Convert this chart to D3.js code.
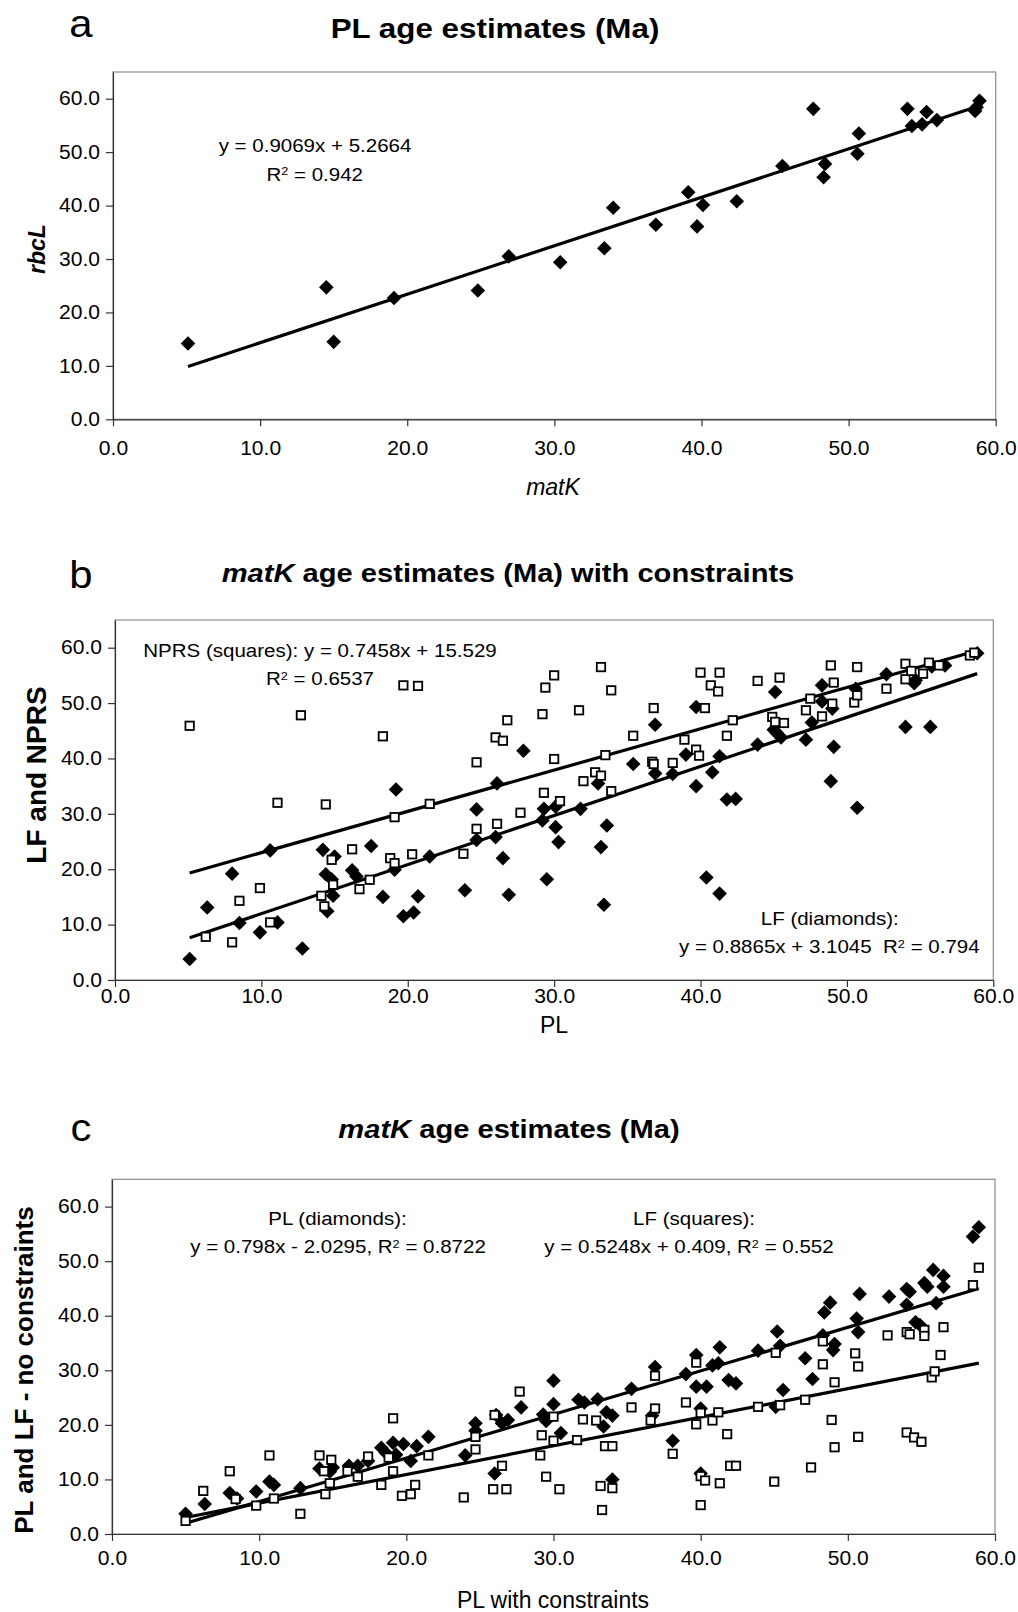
<!DOCTYPE html>
<html><head><meta charset="utf-8">
<script src="https://cdn.jsdelivr.net/npm/d3@7"></script>
<style>body{margin:0;background:#fff}svg{display:block}text{font-family:"Liberation Sans",Arial,sans-serif;fill:#000;white-space:pre}</style>
</head><body><svg id="c" width="1018" height="1612"></svg>
<script>
// ---------- data ----------
const tickValues = [0,10,20,30,40,50,60];
// panel a: PL ages, matK (x) vs rbcL (y)
const aPoints = [[5.1,14.2],[14.5,24.7],[15.0,14.5],[19.1,22.7],[24.8,24.1],[26.9,30.5],[30.4,29.4],[33.4,32.0],[34.0,39.6],[36.9,36.4],[39.1,42.5],[39.7,36.1],[40.1,40.1],[42.4,40.8],[45.5,47.4],[47.6,58.1],[48.4,47.8],[48.3,45.3],[50.6,49.7],[50.7,53.5],[54.0,58.1],[54.3,54.9],[55.0,55.2],[55.3,57.5],[56.0,56.0],[58.6,57.7],[58.9,59.6],[58.7,58.4]];
const aFit = [0.9069, 5.2664];
// panel b: PL (x) vs LF (diamonds) and NPRS (squares)
const bLF = [[5.1,3.8],[6.3,13.1],[8.0,19.2],[8.5,10.3],[9.9,8.6],[10.6,23.4],[11.1,10.4],[12.8,5.7],[14.2,23.5],[14.4,19.1],[14.8,18.2],[14.5,12.4],[14.9,15.2],[15.0,22.3],[16.2,19.8],[16.5,18.7],[17.5,24.2],[18.3,15.0],[19.2,34.4],[19.1,19.9],[19.7,11.5],[20.4,12.2],[20.7,15.1],[21.5,22.3],[23.9,16.2],[24.7,30.8],[24.7,25.3],[26.1,35.5],[26.0,25.8],[26.5,22.0],[26.9,15.4],[27.9,41.4],[29.5,18.2],[29.3,30.9],[29.2,28.8],[30.1,27.6],[30.3,24.9],[30.1,31.3],[31.8,30.9],[33.0,35.5],[33.2,24.0],[33.6,27.9],[33.4,13.6],[35.4,39.0],[36.9,46.1],[36.9,37.3],[38.1,37.2],[39.0,40.7],[39.7,49.3],[39.7,35.0],[40.4,18.5],[40.8,37.5],[41.3,40.4],[41.3,15.6],[41.8,32.6],[42.4,32.7],[43.9,42.5],[45.1,52.0],[45.0,45.2],[45.2,44.6],[45.5,43.8],[47.2,43.4],[47.6,46.5],[48.3,50.3],[48.3,53.2],[49.0,49.0],[49.1,42.1],[48.9,35.9],[50.6,52.6],[50.7,31.1],[52.7,55.2],[54.0,45.7],[55.7,45.7],[54.6,53.6],[54.7,54.1],[55.8,56.6],[56.7,56.8],[58.9,59.0]];
const bNPRS = [[5.1,45.9],[6.2,7.8],[8.0,6.8],[8.5,14.3],[9.9,16.6],[10.6,10.4],[11.1,32.0],[12.7,47.8],[14.1,15.2],[14.3,13.3],[14.4,31.7],[14.8,21.7],[14.9,17.2],[16.2,23.6],[16.7,16.4],[17.4,18.1],[18.3,44.0],[18.8,22.0],[19.1,21.1],[19.1,29.4],[19.7,53.2],[20.3,22.7],[20.7,53.1],[21.5,31.8],[23.8,22.8],[24.7,39.3],[24.7,27.3],[26.0,43.8],[26.1,28.2],[26.5,43.2],[26.8,46.9],[27.7,30.2],[29.2,48.0],[29.4,52.8],[30.0,55.0],[30.0,39.9],[29.3,33.8],[30.4,32.3],[31.7,48.7],[32.0,35.9],[32.8,37.5],[33.2,36.9],[33.2,56.5],[33.5,40.6],[33.9,52.3],[33.9,34.1],[35.4,44.1],[36.7,39.4],[36.8,39.0],[36.8,49.1],[38.1,39.2],[38.9,43.4],[39.7,41.6],[39.9,40.5],[40.0,55.5],[40.3,49.1],[40.7,53.2],[41.2,52.1],[41.3,55.5],[41.8,44.1],[42.2,46.9],[43.9,54.0],[44.9,47.5],[45.1,46.6],[45.4,54.6],[45.7,46.4],[47.2,48.7],[47.5,50.8],[48.3,47.6],[48.9,56.8],[49.1,53.7],[49.0,49.9],[50.7,56.5],[50.5,50.1],[50.7,51.4],[52.7,52.6],[54.0,57.1],[54.0,54.3],[54.4,55.8],[55.2,55.3],[55.6,57.3],[56.3,56.8],[58.4,58.6],[58.7,59.1]];
const bFitLF = [0.8865, 3.1045];
const bFitNPRS = [0.7458, 15.529];
// panel c: PL with constraints (x) vs PL (diamonds) and LF (squares) without constraints
const cPL = [[5.0,3.7],[6.3,5.5],[8.0,7.5],[8.5,6.5],[9.8,7.8],[10.7,9.6],[11.0,9.0],[12.8,8.4],[14.1,12.0],[14.8,11.4],[15.0,12.2],[16.1,12.5],[16.7,12.5],[17.4,13.4],[18.3,15.8],[18.6,14.9],[19.1,16.7],[19.3,14.5],[19.8,16.5],[20.3,13.4],[20.7,16.1],[21.5,17.8],[24.0,14.4],[24.7,20.3],[24.7,18.9],[26.0,11.1],[26.1,21.8],[26.5,20.3],[26.9,20.9],[27.8,23.2],[29.3,21.9],[29.5,20.7],[30.0,28.1],[30.0,23.8],[30.5,18.5],[31.7,24.6],[32.1,24.1],[33.0,24.7],[33.6,22.3],[34.0,21.7],[33.4,19.7],[34.0,10.0],[35.3,26.6],[36.9,30.6],[36.7,21.7],[38.1,17.1],[39.0,29.3],[39.7,32.8],[39.7,27.0],[40.0,23.0],[40.0,11.1],[40.4,27.0],[40.8,30.9],[41.2,31.3],[41.3,34.2],[41.9,28.2],[42.4,27.6],[43.9,33.6],[45.2,37.1],[45.4,34.5],[45.1,23.3],[45.6,26.4],[47.1,32.2],[47.6,28.4],[48.3,36.4],[48.4,40.6],[48.8,42.4],[49.1,34.8],[49.0,33.7],[50.6,39.5],[50.7,37.0],[50.8,44.0],[52.8,43.5],[54.0,44.9],[54.2,44.4],[54.0,42.0],[54.6,38.8],[54.9,38.3],[55.2,46.0],[55.8,48.4],[55.4,45.3],[56.0,42.3],[56.5,47.3],[56.5,45.3],[58.5,54.5],[58.9,56.2]];
const cLF = [[5.0,2.4],[6.2,7.9],[8.0,11.5],[8.4,6.4],[9.8,5.2],[10.7,14.4],[11.0,6.5],[12.8,3.7],[14.1,14.4],[14.4,11.5],[14.5,7.3],[14.9,13.6],[14.8,9.3],[16.0,11.5],[16.7,10.5],[17.4,14.2],[18.3,9.0],[19.1,21.2],[19.1,11.5],[18.8,14.0],[19.7,7.0],[20.3,7.3],[20.6,9.0],[21.5,14.4],[23.9,6.7],[24.7,15.5],[24.7,17.8],[26.0,21.8],[25.9,8.2],[26.5,12.5],[26.8,8.2],[27.7,26.1],[29.1,14.4],[29.2,18.1],[29.5,10.5],[30.0,21.5],[30.0,17.1],[30.4,8.2],[31.6,17.2],[32.0,21.0],[32.9,20.8],[33.5,16.1],[34.0,16.1],[33.2,8.8],[34.0,8.4],[33.3,4.4],[35.3,23.2],[36.9,29.0],[36.9,23.0],[36.6,20.8],[38.1,14.7],[39.0,24.1],[39.7,31.4],[39.7,20.1],[40.0,22.2],[40.0,10.6],[40.3,9.8],[40.0,5.3],[40.8,20.8],[41.2,22.3],[41.3,9.3],[41.8,18.3],[42.0,12.5],[42.4,12.5],[43.9,23.3],[45.1,33.2],[45.0,9.6],[45.4,23.6],[47.1,24.6],[47.5,12.2],[48.3,31.1],[48.3,35.3],[48.9,20.9],[49.1,27.8],[49.1,15.9],[50.5,33.1],[50.7,30.7],[50.7,17.8],[52.7,36.4],[54.0,37.0],[54.2,36.6],[54.0,18.6],[54.5,17.7],[55.0,16.9],[55.2,37.4],[55.2,36.3],[55.7,28.7],[55.9,29.8],[56.3,32.8],[56.5,37.9],[58.5,45.6],[58.9,48.8]];
const cFitPL = [0.798, -2.0295];
const cFitLF = [0.5248, 0.409];

// ---------- drawing ----------
const svg = d3.select("#c");
svg.append("rect").attr("width",1018).attr("height",1612).attr("fill","#fff");
const SX = 1.08;

function text(g, x, y, parts, o) {
  o = o || {};
  const t = g.append("text")
    .attr("transform", `translate(${x},${y})` + (o.rot ? ` rotate(${o.rot})` : "") + ` scale(${o.sx || 1},1)`)
    .attr("text-anchor", o.anchor || "middle")
    .attr("xml:space", "preserve")
    .style("font-size", (o.size || 19) + "px")
    .style("font-weight", o.weight || "normal")
    .style("font-style", o.style || "normal");
  parts.forEach(p => {
    if (typeof p === "string") p = {t: p};
    const s = t.append("tspan").text(p.t);
    if (p.style) s.style("font-style", p.style);
    if (p.weight) s.style("font-weight", p.weight);
    if (p.sup) s.attr("dy", "-0.45em").style("font-size", "0.62em");
    if (p.after) s.attr("dy", "0.28em");
  });
  return t;
}
const R2 = (val) => ["R", {t:"2", sup:true}, {t:" = " + val, after:true}];

function panel(box, series, fits, padX) {
  const x = d3.scaleLinear().domain([0,60]).range([box.l, box.r]);
  const y = d3.scaleLinear().domain([0,65]).range([box.b, box.t]);
  const g = svg.append("g");
  g.append("rect").attr("x", box.l).attr("y", box.t).attr("width", box.r-box.l).attr("height", box.b-box.t)
    .attr("fill","none").attr("stroke","#8a8a8a").attr("stroke-width",1.2);
  const ax = g.append("g").attr("transform", `translate(0,${box.b})`)
    .call(d3.axisBottom(x).tickValues(tickValues).tickFormat(d3.format(".1f")).tickSize(7).tickSizeOuter(0).tickPadding(padX));
  const ay = g.append("g").attr("transform", `translate(${box.l},0)`)
    .call(d3.axisLeft(y).tickValues(tickValues).tickFormat(d3.format(".1f")).tickSize(7).tickSizeOuter(0).tickPadding(5));
  [ax, ay].forEach(a => {
    a.select(".domain").attr("stroke","#333").attr("stroke-width",1.2);
    a.selectAll(".tick line").attr("stroke","#333").attr("stroke-width",1.2);
    a.selectAll(".tick text").style("font-size","19.5px").style("font-family",'"Liberation Sans",Arial,sans-serif')
      .attr("fill","#000");
  });
  ax.selectAll(".tick text").attr("transform", `scale(${SX},1)`);
  ay.selectAll(".tick text").attr("transform", `scale(${SX},1)`);
  // trend lines
  fits.forEach(f => {
    const pts = series[f.series].data;
    const [x0, x1] = d3.extent(pts, d => d[0]);
    const line = d3.line().x(d => x(d)).y(d => y(f.c[0]*d + f.c[1]));
    g.append("path").attr("d", line([x0, x1])).attr("fill","none").attr("stroke","#000").attr("stroke-width",3.2);
  });
  series.forEach(s => {
    const m = g.append("g");
    if (s.shape === "diamond") {
      m.selectAll("path").data(s.data).enter().append("path")
        .attr("d", d => `M${x(d[0])},${y(d[1])-7.3}l7.3,7.3l-7.3,7.3l-7.3,-7.3z`).attr("fill","#000");
    } else {
      m.selectAll("rect").data(s.data).enter().append("rect")
        .attr("x", d => x(d[0])-4.2).attr("y", d => y(d[1])-4.2).attr("width",8.4).attr("height",8.4)
        .attr("fill","#fff").attr("stroke","#000").attr("stroke-width",1.8);
    }
  });
  return {x, y, g};
}

// ----- panel a -----
text(svg, 81, 37, ["a"], {size:38, sx:1.1});
text(svg, 495, 38, ["PL age estimates (Ma)"], {size:28, weight:"bold", sx:1.12});
panel({l:113, r:995.7, t:72, b:419.3},
  [{shape:"diamond", data:aPoints}],
  [{series:0, c:aFit}], 15);
text(svg, 315, 151.7, ["y = 0.9069x + 5.2664"], {sx:SX});
text(svg, 314.7, 180.7, R2("0.942"), {sx:SX});
text(svg, 553, 495, ["matK"], {size:23, style:"italic"});
text(svg, 45, 249, ["rbcL"], {size:23, style:"italic", weight:"bold", rot:-90});

// ----- panel b -----
text(svg, 81, 588, ["b"], {size:38, sx:1.1});
text(svg, 508, 582, [{t:"matK", style:"italic"}, " age estimates (Ma) with constraints"], {size:26, weight:"bold", sx:1.12});
panel({l:115, r:993.3, t:620, b:980},
  [{shape:"diamond", data:bLF}, {shape:"square", data:bNPRS}],
  [{series:1, c:bFitNPRS}, {series:0, c:bFitLF}], 2);
text(svg, 320, 657.3, ["NPRS (squares): y = 0.7458x + 15.529"], {sx:SX});
text(svg, 320, 685, R2("0.6537"), {sx:SX});
text(svg, 829.7, 925, ["LF (diamonds):"], {sx:SX});
text(svg, 829.3, 953.3, ["y = 0.8865x + 3.1045  R", {t:"2", sup:true}, {t:" = 0.794", after:true}], {sx:SX});
text(svg, 554, 1033, ["PL"], {size:23});
text(svg, 46, 775, ["LF and NPRS"], {size:28, weight:"bold", rot:-90});

// ----- panel c -----
text(svg, 81, 1141, ["c"], {size:38, sx:1.1});
text(svg, 509, 1138, [{t:"matK", style:"italic"}, " age estimates (Ma)"], {size:26, weight:"bold", sx:1.12});
panel({l:112, r:995, t:1179.3, b:1534},
  [{shape:"diamond", data:cPL}, {shape:"square", data:cLF}],
  [{series:0, c:cFitPL}, {series:1, c:cFitLF}], 10);
text(svg, 337.5, 1225, ["PL (diamonds):"], {sx:SX});
text(svg, 338, 1253.3, ["y = 0.798x - 2.0295, R", {t:"2", sup:true}, {t:" = 0.8722", after:true}], {sx:SX});
text(svg, 694, 1225, ["LF (squares):"], {sx:SX});
text(svg, 689, 1253.3, ["y = 0.5248x + 0.409, R", {t:"2", sup:true}, {t:" = 0.552", after:true}], {sx:SX});
text(svg, 553, 1608, ["PL with constraints"], {size:23});
text(svg, 33, 1370, ["PL and LF - no constraints"], {size:26, weight:"bold", rot:-90});
</script></body></html>
